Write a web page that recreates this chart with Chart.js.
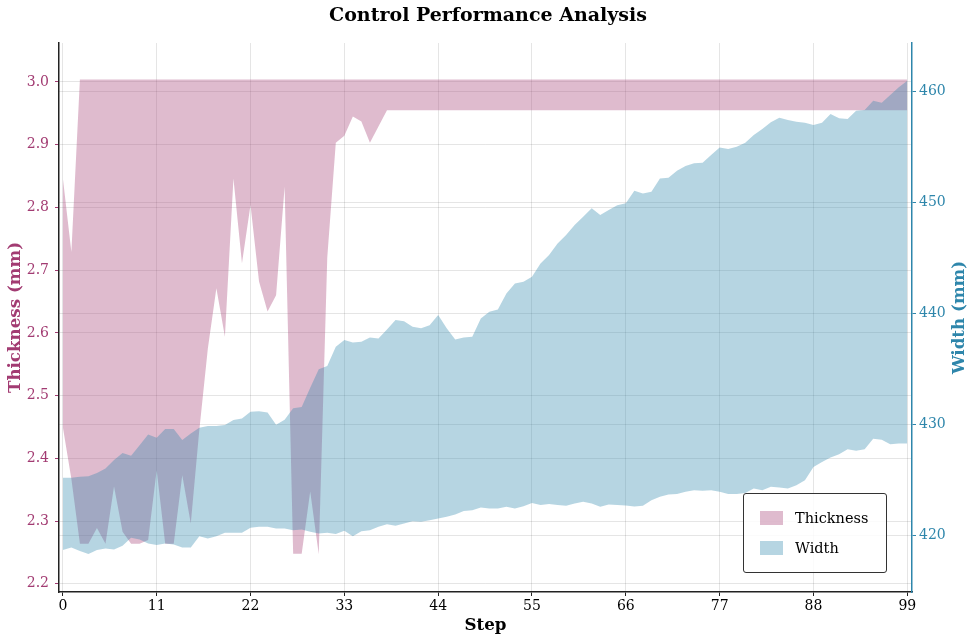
<!DOCTYPE html>
<html>
<head>
<meta charset="utf-8">
<script src="https://cdn.jsdelivr.net/npm/chart.js@4.4.0/dist/chart.umd.min.js"></script>
<style>
  body { margin: 0; background: #fff; }
  #wrap { position: relative; width: 976px; height: 642px; }
  #legend {
    position: absolute; left: 743px; top: 493px; width: 142px; height: 78px;
    border: 1px solid #333; border-radius: 3px; background: rgba(255,255,255,0.85);
    font-family: 'DejaVu Serif', serif; font-size: 14.5px; color: #000;
  }
  .row { position: absolute; left: 16px; display: flex; align-items: center; height: 14px; }
  .sw { width: 23px; height: 14px; margin-right: 12px; }
</style>
</head>
<body>
<div id="wrap">
  <canvas id="chart" width="976" height="642"></canvas>
  <div id="legend">
    <div class="row" style="top:17px"><span class="sw" style="background:rgba(162,59,114,0.35)"></span>Thickness</div>
    <div class="row" style="top:47px"><span class="sw" style="background:rgba(46,134,171,0.35)"></span>Width</div>
  </div>
</div>
<script>
// step index 0..99
const steps = Array.from({ length: 100 }, (_, i) => i);
const xTicks = [0, 11, 22, 33, 44, 55, 66, 77, 88, 99];
const thickTicks = [2.2, 2.3, 2.4, 2.5, 2.6, 2.7, 2.8, 2.9, 3.0];
const widthTicks = [420, 430, 440, 450, 460];

// thickness band (mm)
const thickUpper = [
  2.847, 2.729, 3.004, 3.004, 3.004, 3.004, 3.004, 3.004, 3.004, 3.004,
  3.004, 3.004, 3.004, 3.004, 3.004, 3.004, 3.004, 3.004, 3.004, 3.004,
  3.004, 3.004, 3.004, 3.004, 3.004, 3.004, 3.004, 3.004, 3.004, 3.004,
  3.004, 3.004, 3.004, 3.004, 3.004, 3.004, 3.004, 3.004, 3.004, 3.004,
  3.004, 3.004, 3.004, 3.004, 3.004, 3.004, 3.004, 3.004, 3.004, 3.004,
  3.004, 3.004, 3.004, 3.004, 3.004, 3.004, 3.004, 3.004, 3.004, 3.004,
  3.004, 3.004, 3.004, 3.004, 3.004, 3.004, 3.004, 3.004, 3.004, 3.004,
  3.004, 3.004, 3.004, 3.004, 3.004, 3.004, 3.004, 3.004, 3.004, 3.004,
  3.004, 3.004, 3.004, 3.004, 3.004, 3.004, 3.004, 3.004, 3.004, 3.004,
  3.004, 3.004, 3.004, 3.004, 3.004, 3.004, 3.004, 3.004, 3.004, 3.004
];
const thickLower = [
  2.450, 2.367, 2.264, 2.264, 2.289, 2.264, 2.355, 2.283, 2.264, 2.264,
  2.270, 2.381, 2.264, 2.264, 2.373, 2.296, 2.445, 2.575, 2.671, 2.594,
  2.846, 2.711, 2.804, 2.682, 2.634, 2.660, 2.833, 2.248, 2.248, 2.347,
  2.247, 2.720, 2.903, 2.914, 2.945, 2.937, 2.903, 2.929, 2.955, 2.955,
  2.955, 2.955, 2.955, 2.955, 2.955, 2.955, 2.955, 2.955, 2.955, 2.955,
  2.955, 2.955, 2.955, 2.955, 2.955, 2.955, 2.955, 2.955, 2.955, 2.955,
  2.955, 2.955, 2.955, 2.955, 2.955, 2.955, 2.955, 2.955, 2.955, 2.955,
  2.955, 2.955, 2.955, 2.955, 2.955, 2.955, 2.955, 2.955, 2.955, 2.955,
  2.955, 2.955, 2.955, 2.955, 2.955, 2.955, 2.955, 2.955, 2.955, 2.955,
  2.955, 2.955, 2.955, 2.955, 2.955, 2.955, 2.955, 2.955, 2.955, 2.955
];

// width band (mm)
const widthUpper = [
  425.16, 425.16, 425.25, 425.30, 425.60, 426.00, 426.76, 427.40, 427.15, 428.10,
  429.08, 428.78, 429.56, 429.56, 428.57, 429.17, 429.68, 429.83, 429.83, 429.92,
  430.37, 430.52, 431.12, 431.18, 431.06, 429.95, 430.40, 431.45, 431.55, 433.30,
  434.95, 435.25, 437.00, 437.60, 437.38, 437.44, 437.83, 437.74, 438.55, 439.40,
  439.30, 438.80, 438.65, 438.94, 439.85, 438.65, 437.65, 437.83, 437.90, 439.55,
  440.15, 440.36, 441.80, 442.70, 442.85, 443.30, 444.50, 445.26, 446.30, 447.07,
  447.97, 448.72, 449.48, 448.87, 449.32, 449.77, 449.95, 451.07, 450.83, 450.98,
  452.18, 452.24, 452.87, 453.30, 453.54, 453.60, 454.29, 454.98, 454.83, 455.04,
  455.40, 456.10, 456.63, 457.24, 457.66, 457.45, 457.29, 457.20, 456.99, 457.20,
  457.99, 457.60, 457.54, 458.29, 458.35, 459.19, 459.00, 459.70, 460.40, 461.00
];
const widthLower = [
  418.64, 418.88, 418.57, 418.28, 418.64, 418.79, 418.70, 419.03, 419.75, 419.60,
  419.24, 419.09, 419.24, 419.15, 418.88, 418.88, 419.90, 419.69, 419.90, 420.20,
  420.20, 420.20, 420.65, 420.74, 420.74, 420.60, 420.60, 420.44, 420.50, 420.29,
  420.14, 420.20, 420.10, 420.38, 419.90, 420.35, 420.44, 420.74, 420.98, 420.83,
  421.05, 421.25, 421.20, 421.34, 421.50, 421.64, 421.86, 422.18, 422.24, 422.49,
  422.40, 422.40, 422.55, 422.40, 422.60, 422.90, 422.70, 422.80, 422.70, 422.64,
  422.85, 423.00, 422.85, 422.55, 422.76, 422.70, 422.67, 422.57, 422.64, 423.15,
  423.45, 423.66, 423.70, 423.90, 424.05, 424.00, 424.05, 423.90, 423.70, 423.70,
  423.80, 424.20, 424.05, 424.35, 424.30, 424.20, 424.50, 424.95, 426.15, 426.60,
  427.00, 427.30, 427.75, 427.60, 427.75, 428.70, 428.60, 428.20, 428.25, 428.25
];

const PINK = '#A23B72';
const BLUE = '#2E86AB';
const SERIF = "'DejaVu Serif', serif";
Chart.defaults.font.family = SERIF;

const pts = arr => arr.map((v, i) => ({ x: steps[i], y: v }));

// matplotlib style right ylabel (reads bottom to top)
const rightTitle = {
  id: 'rightTitle',
  afterDraw(chart) {
    const ctx = chart.ctx;
    const a = chart.chartArea;
    ctx.save();
    ctx.translate(chart.width - 16, (a.top + a.bottom) / 2);
    ctx.rotate(-Math.PI / 2);
    ctx.font = 'bold 16.7px ' + SERIF;
    ctx.fillStyle = BLUE;
    ctx.textAlign = 'center';
    ctx.textBaseline = 'middle';
    ctx.fillText('Width (mm)', 0, 0);
    ctx.restore();
  }
};

new Chart(document.getElementById('chart'), {
  type: 'line',
  data: {
    datasets: [
      { label: 'Width', data: pts(widthUpper), yAxisID: 'yW', fill: '+1',
        backgroundColor: 'rgba(46,134,171,0.35)', borderWidth: 0, pointRadius: 0 },
      { label: 'Width low', data: pts(widthLower), yAxisID: 'yW', fill: false,
        borderWidth: 0, pointRadius: 0 },
      { label: 'Thickness', data: pts(thickUpper), yAxisID: 'yT', fill: '+1',
        backgroundColor: 'rgba(162,59,114,0.35)', borderWidth: 0, pointRadius: 0 },
      { label: 'Thickness low', data: pts(thickLower), yAxisID: 'yT', fill: false,
        borderWidth: 0, pointRadius: 0 }
    ]
  },
  options: {
    responsive: false,
    animation: false,
    layout: { padding: 0 },
    plugins: {
      legend: { display: false },
      tooltip: { enabled: false },
      title: {
        display: true,
        text: 'Control Performance Analysis',
        color: '#000',
        font: { size: 19, weight: 'bold' },
        padding: { top: 5, bottom: 15.2 }
      }
    },
    scales: {
      x: {
        type: 'linear', min: -0.45, max: 99.55,
        afterBuildTicks: s => { s.ticks = xTicks.map(v => ({ value: v })); },
        afterFit: s => { s.height = 50; },
        ticks: { color: '#000', font: { size: 14 }, padding: 2 },
        grid: { color: 'rgba(0,0,0,0.1)', tickColor: '#222', tickLength: 4 },
        border: { color: '#222', width: 1.5 },
        title: { display: true, text: 'Step', color: '#000',
                 font: { size: 16.7, weight: 'bold' }, padding: { top: 0, bottom: 6 } }
      },
      yT: {
        type: 'linear', position: 'left', min: 2.187, max: 3.062,
        afterBuildTicks: s => { s.ticks = thickTicks.map(v => ({ value: v })); },
        afterFit: s => { s.width = 59; },
        ticks: { color: PINK, font: { size: 14 }, padding: 6,
                 callback: v => v.toFixed(1) },
        grid: { color: 'rgba(0,0,0,0.1)', tickColor: PINK, tickLength: 4 },
        border: { color: '#222', width: 1.5 },
        title: { display: true, text: 'Thickness (mm)', color: PINK,
                 font: { size: 16.7, weight: 'bold' }, padding: { top: 6, bottom: 0 } }
      },
      yW: {
        type: 'linear', position: 'right', min: 414.86, max: 464.4,
        afterBuildTicks: s => { s.ticks = widthTicks.map(v => ({ value: v })); },
        afterFit: s => { s.width = 64; },
        ticks: { color: BLUE, font: { size: 14 }, padding: 3 },
        grid: { color: 'rgba(0,0,0,0.1)', tickColor: BLUE, tickLength: 4 },
        border: { color: BLUE, width: 1.5 },
        title: { display: false }
      }
    }
  },
  plugins: [rightTitle]
});
</script>
</body>
</html>
